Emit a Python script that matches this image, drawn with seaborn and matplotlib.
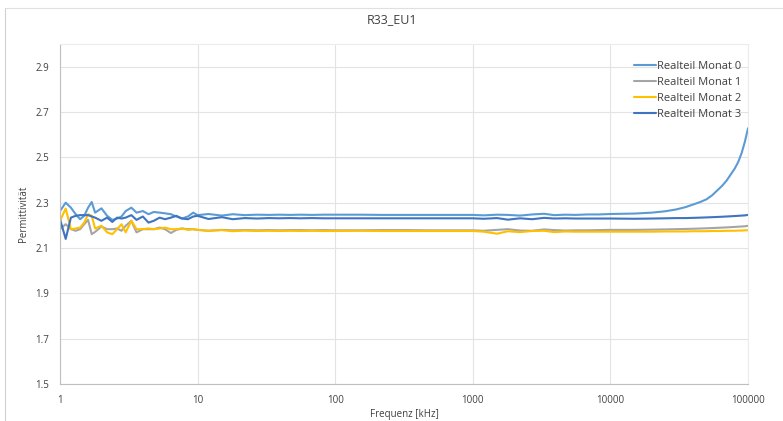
import matplotlib
matplotlib.use("Agg")
import matplotlib.pyplot as plt
from matplotlib.lines import Line2D
import pandas as pd
import seaborn as sns

# Frequenzpunkte [kHz]
freq = [1, 1.1, 1.2, 1.3, 1.4, 1.5, 1.6, 1.7, 1.8, 2.0, 2.2, 2.4, 2.6, 2.8, 3.0, 3.3, 3.6,
        4.0, 4.4, 4.8, 5.3, 5.8, 6.4, 7.0, 7.7, 8.5, 9.3, 10,
        12, 15, 18, 22, 27, 33, 39, 47, 56, 68, 82, 100, 150, 220, 330, 470, 680, 1000,
        1200, 1500, 1800, 2200, 2700, 3300, 3900, 4700, 5600, 6800, 8200, 10000,
        15000, 20000, 25000, 30000, 35000, 40000, 45000, 50000, 55000, 60000, 65000,
        70000, 75000, 80000, 85000, 90000, 95000, 100000]

monat0 = [2.263, 2.300, 2.278, 2.249, 2.227, 2.242, 2.278, 2.303, 2.256, 2.275, 2.242, 2.224,
          2.230, 2.239, 2.263, 2.278, 2.256, 2.263, 2.249, 2.259, 2.256, 2.253, 2.249, 2.239,
          2.230, 2.239, 2.256, 2.245,
          2.250, 2.243, 2.249, 2.245, 2.247, 2.246, 2.247, 2.246, 2.247, 2.246, 2.247, 2.247,
          2.247, 2.246, 2.246, 2.246, 2.246, 2.246,
          2.244, 2.247, 2.246, 2.243, 2.248, 2.251, 2.245, 2.247, 2.246, 2.248, 2.248, 2.250,
          2.252, 2.256, 2.262, 2.270, 2.280, 2.292, 2.303, 2.315, 2.333, 2.355, 2.375,
          2.398, 2.425, 2.450, 2.480, 2.520, 2.570, 2.628]

monat1 = [2.183, 2.205, 2.183, 2.176, 2.183, 2.205, 2.224, 2.161, 2.171, 2.195, 2.183, 2.183,
          2.186, 2.176, 2.198, 2.220, 2.169, 2.183, 2.183, 2.183, 2.190, 2.183, 2.166, 2.180,
          2.186, 2.183, 2.183, 2.180,
          2.176, 2.180, 2.178, 2.179, 2.178, 2.179, 2.178, 2.179, 2.179, 2.178, 2.179, 2.178,
          2.178, 2.179, 2.179, 2.178, 2.178, 2.178,
          2.176, 2.180, 2.183, 2.177, 2.176, 2.182, 2.179, 2.177, 2.178, 2.178, 2.179, 2.180,
          2.180, 2.181, 2.182, 2.183, 2.184, 2.185, 2.186, 2.187, 2.188, 2.189, 2.190,
          2.191, 2.192, 2.193, 2.194, 2.195, 2.196, 2.198]

monat2 = [2.220, 2.274, 2.183, 2.186, 2.190, 2.212, 2.249, 2.242, 2.186, 2.198, 2.169, 2.161,
          2.183, 2.205, 2.169, 2.220, 2.183, 2.183, 2.186, 2.183, 2.186, 2.190, 2.183, 2.183,
          2.186, 2.180, 2.183, 2.180,
          2.176, 2.179, 2.174, 2.177, 2.175, 2.176, 2.175, 2.176, 2.175, 2.176, 2.175, 2.175,
          2.176, 2.175, 2.175, 2.175, 2.175, 2.175,
          2.172, 2.163, 2.174, 2.170, 2.175, 2.176, 2.170, 2.173, 2.172, 2.172, 2.172, 2.172,
          2.172, 2.172, 2.173, 2.173, 2.173, 2.174, 2.174, 2.174, 2.175, 2.175, 2.175,
          2.176, 2.176, 2.176, 2.177, 2.177, 2.178, 2.178]

monat3 = [2.227, 2.140, 2.234, 2.242, 2.245, 2.245, 2.245, 2.239, 2.234, 2.220, 2.234, 2.215,
          2.234, 2.230, 2.234, 2.245, 2.224, 2.239, 2.212, 2.220, 2.234, 2.227, 2.234, 2.242,
          2.230, 2.227, 2.239, 2.242,
          2.228, 2.236, 2.227, 2.232, 2.230, 2.232, 2.231, 2.232, 2.231, 2.232, 2.231, 2.231,
          2.231, 2.231, 2.231, 2.231, 2.231, 2.231,
          2.229, 2.232, 2.225, 2.231, 2.227, 2.233, 2.230, 2.231, 2.230, 2.230, 2.230, 2.230,
          2.229, 2.230, 2.231, 2.232, 2.232, 2.233, 2.234, 2.235, 2.236, 2.237, 2.238,
          2.239, 2.240, 2.241, 2.242, 2.243, 2.244, 2.246]

serien = ["Realteil Monat 0", "Realteil Monat 1", "Realteil Monat 2", "Realteil Monat 3"]
farben = ["#5B9BD5", "#A5A5A5", "#FFC000", "#3F74C0"]
yticks = [1.5, 1.7, 1.9, 2.1, 2.3, 2.5, 2.7, 2.9]
xticks = [1, 10, 100, 1000, 10000, 100000]

df = pd.concat([pd.DataFrame({"Frequenz": freq, "Wert": werte, "Serie": name})
                for name, werte in zip(serien, [monat0, monat1, monat2, monat3])])

sns.set_style("white")
plt.rcParams["font.family"] = ["Open Sans", "DejaVu Sans"]

fig = plt.figure(figsize=(7.83, 4.21), dpi=100)
ax = fig.add_axes([60 / 783, 1 - 384 / 421, 688 / 783, 340 / 421])

sns.lineplot(data=df, x="Frequenz", y="Wert", hue="Serie", palette=farben,
             linewidth=1.5, ax=ax, legend=False)

ax.set_xscale("log")
ax.set_xlim(1, 100000)
ax.set_ylim(1.5, 3.0)
ax.set_xticks(xticks)
ax.set_xticklabels([str(t) for t in xticks])
ax.minorticks_off()
ax.set_yticks(yticks)
ax.set_yticklabels([f"{t:.1f}" for t in yticks])
ax.tick_params(axis="both", length=0, labelsize=7, colors="#404040", pad=8)
ax.grid(True, color="#E3E3E3", linewidth=0.8)
for side, sp in ax.spines.items():
    sp.set_color("#BFBFBF" if side in ("left", "bottom") else "#ECECEC")
    sp.set_linewidth(0.8)

ax.set_xlabel("")
ax.set_ylabel("Permittivität", fontsize=7, color="#404040", labelpad=4)
fig.text(392 / 783, 1 - 20 / 421, "R33_EU1", ha="center", va="center",
         fontsize=9, color="#404040")
fig.text(404 / 783, 1 - 414 / 421, "Frequenz [kHz]", ha="center", va="center",
         fontsize=7, color="#404040")

handles = [Line2D([], [], color=c, linewidth=1.5) for c in farben]
ax.legend(handles, serien, loc="upper right", bbox_to_anchor=(1.005, 0.98), frameon=False,
          fontsize=8, handlelength=2.0, handletextpad=0.1, labelspacing=0.45,
          labelcolor="#404040")

# Rahmen des Diagrammbereichs
fig.add_artist(Line2D([5 / 783, 5 / 783], [0, 1 - 8 / 421], color="#D0D0D0",
                      linewidth=0.8, transform=fig.transFigure))
fig.add_artist(Line2D([5 / 783, 1], [1 - 8 / 421, 1 - 8 / 421], color="#E0E0E0",
                      linewidth=0.8, transform=fig.transFigure))

fig.savefig("out.png", dpi=100, facecolor="white")
